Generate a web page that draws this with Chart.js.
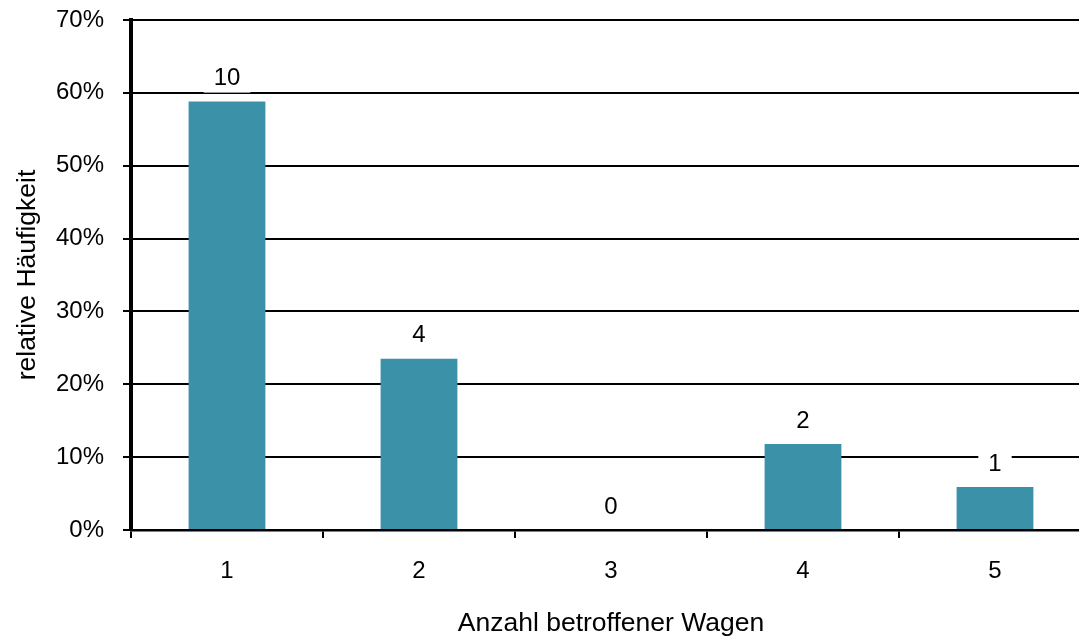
<!DOCTYPE html>
<html>
<head>
<meta charset="utf-8">
<script src="https://cdn.jsdelivr.net/npm/chart.js@4.4.0/dist/chart.umd.min.js"></script>
<style>
  html, body { margin: 0; padding: 0; background: #fff; overflow: hidden; }
  #wrap { width: 1100px; height: 637px; position: relative; }
</style>
</head>
<body>
<div id="wrap"><canvas id="c"></canvas></div>
<script>
const categories = ['1', '2', '3', '4', '5'];
const shares = [58.8, 23.5, 0, 11.8, 5.9];
const counts = [10, 4, 0, 2, 1];
const yTicks = [0, 10, 20, 30, 40, 50, 60, 70];

const FONT = "'Liberation Sans', Arial, sans-serif";

const countLabels = {
  id: 'countLabels',
  afterDatasetsDraw(chart) {
    const ctx = chart.ctx;
    const meta = chart.getDatasetMeta(0);
    ctx.save();
    ctx.font = '24px ' + FONT;
    ctx.textAlign = 'center';
    ctx.textBaseline = 'middle';
    meta.data.forEach((bar, i) => {
      const txt = String(counts[i]);
      const w = ctx.measureText(txt).width;
      const cy = bar.y - 24;
      ctx.fillStyle = '#ffffff';
      ctx.fillRect(bar.x - w / 2 - 10, cy - 15, w + 20, 30);
      ctx.fillStyle = '#000000';
      ctx.fillText(txt, bar.x, cy + 1);
    });
    ctx.restore();
  }
};

const chart = new Chart(document.getElementById('c'), {
  type: 'bar',
  data: {
    labels: categories,
    datasets: [{
      data: shares,
      backgroundColor: '#3A91A8',
      borderWidth: 0,
      barPercentage: 0.4,
      categoryPercentage: 1.0
    }]
  },
  options: {
    responsive: true,
    maintainAspectRatio: false,
    animation: false,
    layout: { padding: { top: 20, right: 9, left: 0, bottom: 0 } },
    plugins: { legend: { display: false }, tooltip: { enabled: false } },
    scales: {
      x: {
        offset: true,
        afterFit(s) { s.height = 107; s.paddingLeft = 0; s.paddingRight = 0; },
        grid: {
          offset: true,
          drawOnChartArea: false,
          drawTicks: true,
          tickLength: 8,
          color: '#000',
          lineWidth: 2
        },
        border: { display: true, color: '#000', width: 2.5 },
        ticks: { color: '#000', font: { family: FONT, size: 24 }, padding: 19 },
        title: {
          display: true,
          text: 'Anzahl betroffener Wagen',
          color: '#000',
          font: { family: FONT, size: 26.5, lineHeight: 1.0 },
          padding: { top: 0, bottom: 0 }
        }
      },
      y: {
        min: 0,
        max: 70,
        afterFit(s) { s.width = 131; s.paddingTop = 0; s.paddingBottom = 0; },
        afterBuildTicks(s) { s.ticks = yTicks.map(v => ({ value: v })); },
        grid: {
          color: '#000',
          lineWidth: 2,
          tickLength: 8,
          drawTicks: true
        },
        border: { display: true, color: '#000', width: 4 },
        ticks: {
          color: '#000',
          font: { family: FONT, size: 24 },
          padding: 19,
          callback: v => v + '%'
        },
        title: {
          display: true,
          text: 'relative Häufigkeit',
          color: '#000',
          font: { family: FONT, size: 26.5, lineHeight: 1.0 },
          padding: { top: 14, bottom: 0 }
        }
      }
    }
  },
  plugins: [countLabels]
});
</script>
</body>
</html>
